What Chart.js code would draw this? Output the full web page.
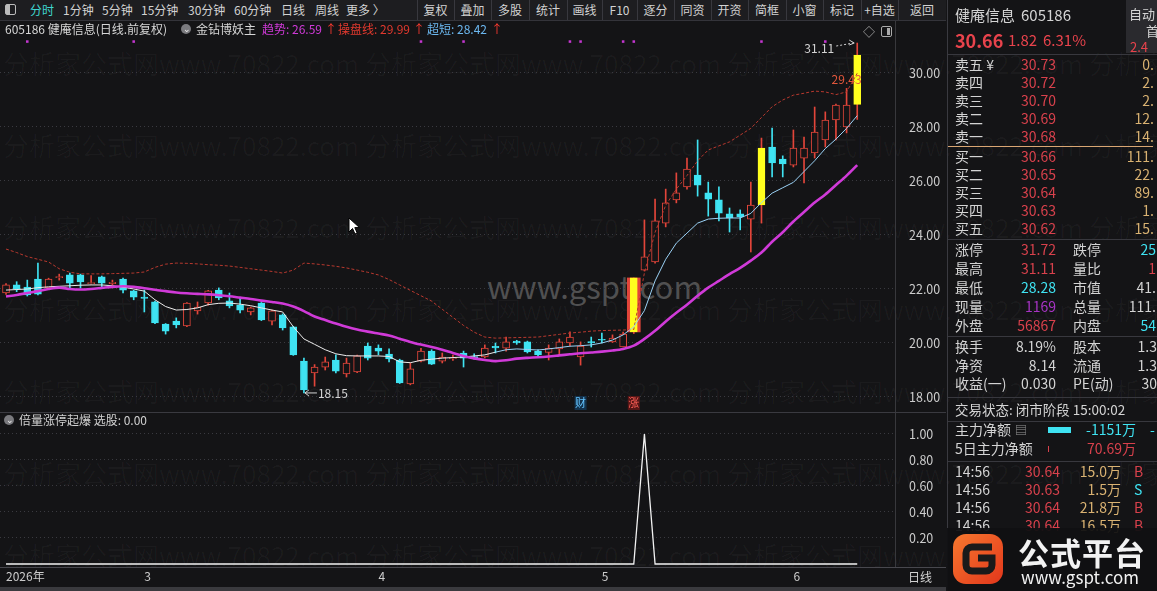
<!DOCTYPE html>
<html lang="zh-CN">
<head>
<meta charset="utf-8">
<title>健庵信息 605186 日线</title>
<script src="https://cdn.jsdelivr.net/npm/chart.js@4.4.1/dist/chart.umd.min.js"></script>
<style>
  html, body { margin: 0; padding: 0; width: 1157px; height: 591px; overflow: hidden; background: #141416;
    font-family: "Noto Sans CJK SC", "Noto Sans", sans-serif; color: #cfcfcf; }
  .t { position: absolute; white-space: nowrap; }
  .box { position: absolute; }
  #wm { position: absolute; left: 0; top: 0; width: 1157px; height: 591px; overflow: hidden; z-index: 0; }
  #priceWrap { position: absolute; left: 0; top: 20px; width: 945px; height: 392px; z-index: 1; }
  #signalWrap { position: absolute; left: 0; top: 413px; width: 945px; height: 175px; z-index: 1; }
  #ui { position: absolute; left: 0; top: 0; width: 1157px; height: 591px; z-index: 2; }
  #panel { position: absolute; left: 947px; top: 0; width: 210px; height: 591px; overflow: hidden; z-index: 2; }
</style>
</head>
<body>
<div id="wm"></div>
<div id="priceWrap"><canvas id="priceChart"></canvas></div>
<div id="signalWrap"><canvas id="signalChart"></canvas></div>
<div id="ui"></div>
<div id="panel"></div>
<script>
// ---- 日K数据 (前复权) ----
const monthStarts = [0, 13, 35, 56, 74];
const monthLabels = ['2026年', '3', '4', '5', '6'];
const priceTicks = [18, 20, 22, 24, 26, 28, 30];
const signalTicks = [0.2, 0.4, 0.6, 0.8, 1.0];

const opens = [
  21.85, 22.15, 22.07, 22.37, 22.04, 22.42, 22.52, 22.52, 22.20, 22.45,
  22.20, 22.37, 21.93, 21.70, 21.52, 20.70, 20.81, 20.63, 21.19, 21.48,
  21.96, 21.56, 21.40, 21.15, 21.48, 20.81, 21.04, 20.60, 19.33, 18.89,
  19.10, 19.37, 18.85, 18.93, 19.89, 19.81, 19.59, 19.37, 18.48, 19.33,
  19.70, 19.33, 19.42, 19.63, 19.50, 19.48, 19.88, 19.81, 20.07, 20.04,
  19.70, 19.65, 19.78, 20.00, 19.48, 20.05, 20.12, 20.04, 19.85, 20.41,
  22.70, 23.00, 24.44, 25.30, 25.78, 26.22, 25.56, 25.30, 24.78, 24.78,
  24.59, 25.11, 27.26, 26.81, 26.59, 26.85, 27.04, 27.52, 28.26, 28.00,
  28.84,
];
const highs = [
  22.20, 22.27, 22.33, 22.96, 22.40, 22.55, 22.59, 22.55, 22.50, 22.48,
  22.33, 22.40, 21.95, 21.96, 21.55, 20.72, 20.93, 21.50, 21.52, 21.95,
  22.04, 21.85, 21.67, 21.33, 21.50, 21.22, 21.08, 20.62, 19.44, 19.20,
  19.48, 19.56, 19.44, 19.55, 20.00, 19.93, 19.78, 19.40, 19.26, 19.80,
  19.75, 19.63, 19.55, 19.70, 19.60, 19.93, 20.00, 20.22, 20.10, 20.07,
  19.75, 19.93, 20.15, 20.41, 20.04, 20.22, 20.37, 20.30, 20.40, 22.41,
  24.56, 25.33, 25.70, 26.30, 26.85, 27.52, 25.96, 25.78, 25.00, 24.93,
  25.96, 27.59, 27.96, 26.93, 27.89, 27.63, 28.74, 28.56, 28.85, 29.43,
  31.11,
];
const lows = [
  21.80, 21.90, 21.74, 21.78, 22.00, 22.33, 22.04, 22.04, 22.18, 22.07,
  22.15, 21.85, 21.60, 21.15, 20.72, 20.33, 20.56, 20.60, 21.07, 21.40,
  21.60, 21.30, 21.11, 21.04, 20.83, 20.67, 20.48, 19.54, 18.15, 18.40,
  19.00, 18.89, 18.74, 18.90, 19.37, 19.56, 19.30, 18.50, 18.45, 19.30,
  19.20, 19.26, 19.35, 19.11, 19.40, 19.45, 19.63, 19.70, 19.95, 19.63,
  19.50, 19.37, 19.56, 19.89, 19.18, 19.85, 20.00, 20.02, 19.85, 20.35,
  22.67, 22.96, 24.30, 25.19, 25.70, 25.44, 24.70, 24.52, 24.11, 24.19,
  23.37, 24.44, 26.15, 26.15, 26.52, 25.93, 26.85, 27.26, 27.52, 27.78,
  28.28,
];
const closes = [
  22.15, 22.00, 21.78, 21.81, 22.37, 22.46, 22.22, 22.26, 22.22, 22.22,
  22.25, 21.96, 21.70, 21.65, 20.74, 20.44, 20.67, 21.48, 21.33, 21.93,
  21.67, 21.37, 21.22, 21.30, 20.85, 21.19, 20.56, 19.56, 18.26, 19.11,
  19.30, 18.96, 19.26, 19.52, 19.44, 19.70, 19.41, 18.52, 19.04, 19.70,
  19.22, 19.48, 19.46, 19.44, 19.45, 19.81, 19.82, 20.04, 20.00, 19.67,
  19.56, 19.80, 20.04, 20.22, 19.89, 20.00, 20.10, 20.18, 20.33, 22.41,
  23.19, 24.52, 25.19, 25.56, 26.44, 25.85, 25.33, 24.81, 24.63, 24.67,
  25.11, 27.22, 26.67, 26.63, 27.22, 27.22, 27.81, 28.26, 28.81, 28.81,
  30.66,
];

// 金钻博妖主: 趋势 / 操盘线 / 超短
const trendLine = [
  21.72, 21.78, 21.85, 21.92, 22.00, 22.05, 22.00, 21.98, 22.00, 22.04,
  22.08, 22.10, 22.08, 22.03, 21.97, 21.92, 21.87, 21.84, 21.82, 21.80,
  21.77, 21.73, 21.68, 21.63, 21.57, 21.52, 21.46, 21.35, 21.18, 20.98,
  20.85, 20.72, 20.60, 20.50, 20.42, 20.35, 20.28, 20.16, 20.04, 19.94,
  19.85, 19.75, 19.63, 19.52, 19.43, 19.37, 19.33, 19.36, 19.42, 19.45,
  19.47, 19.50, 19.54, 19.58, 19.62, 19.65, 19.68, 19.72, 19.78, 19.90,
  20.15, 20.45, 20.80, 21.12, 21.42, 21.75, 22.05, 22.30, 22.55, 22.78,
  23.05, 23.35, 23.75, 24.10, 24.50, 24.85, 25.20, 25.50, 25.85, 26.20,
  26.59,
];
const operateLine = [
  23.48, 23.35, 23.20, 23.10, 23.00, 22.75, 22.62, 22.56, 22.56, 22.56,
  22.57, 22.58, 22.59, 22.63, 22.80, 22.92, 22.96, 22.95, 22.93, 22.90,
  22.88, 22.85, 22.80, 22.75, 22.70, 22.65, 22.59, 22.70, 22.96, 22.93,
  22.89, 22.84, 22.78, 22.70, 22.62, 22.52, 22.35, 22.15, 21.95, 21.75,
  21.55, 21.25, 20.95, 20.65, 20.40, 20.22, 20.18, 20.19, 20.20, 20.21,
  20.22, 20.27, 20.32, 20.37, 20.40, 20.44, 20.46, 20.47, 20.48, 20.50,
  22.60, 24.10, 25.10, 25.70, 26.20, 26.75, 27.15, 27.30, 27.45, 27.70,
  27.95, 28.35, 28.75, 29.00, 29.18, 29.25, 29.33, 29.30, 29.20, 29.30,
  29.99,
];
const shortLine = [
  21.96, 21.98, 22.00, 22.05, 22.08, 22.10, 22.12, 22.14, 22.15, 22.15,
  22.12, 22.07, 22.00, 21.92, 21.60, 21.35, 21.22, 21.24, 21.30, 21.42,
  21.47, 21.48, 21.44, 21.38, 21.30, 21.22, 21.15, 20.60, 20.15, 19.95,
  19.75, 19.60, 19.53, 19.52, 19.52, 19.52, 19.50, 19.30, 19.27, 19.36,
  19.40, 19.44, 19.46, 19.48, 19.52, 19.56, 19.66, 19.75, 19.78, 19.76,
  19.74, 19.78, 19.83, 19.88, 19.90, 19.93, 20.00, 20.11, 20.30, 20.60,
  21.20, 22.30, 23.10, 23.70, 24.07, 24.44, 24.59, 24.62, 24.63, 24.63,
  24.80, 25.20, 25.55, 25.75, 25.95, 26.35, 26.75, 27.20, 27.55, 27.95,
  28.42,
];

// 倍量涨停起爆 选股
const signal = [
  0, 0, 0, 0, 0, 0, 0, 0, 0, 0,
  0, 0, 0, 0, 0, 0, 0, 0, 0, 0,
  0, 0, 0, 0, 0, 0, 0, 0, 0, 0,
  0, 0, 0, 0, 0, 0, 0, 0, 0, 0,
  0, 0, 0, 0, 0, 0, 0, 0, 0, 0,
  0, 0, 0, 0, 0, 0, 0, 0, 0, 0,
  1, 0, 0, 0, 0, 0, 0, 0, 0, 0,
  0, 0, 0, 0, 0, 0, 0, 0, 0, 0,
  0,
];

const dotDays = [2, 12, 39, 43, 53, 54, 58, 59, 71, 77];
const limitUpDays = [59];
const hotDays = [71, 80];
const eventMarks = [
  { day: 54, text: '财', color: '#63c4ff', bg: '#14324c' },
  { day: 59, text: '涨', color: '#ff5f57', bg: '#561616' },
];
const targetMark = { day: 79, value: 29.43 };

// ---- styles ----
const BG = '#141416';
const RED = '#e2453a';
const CYAN = '#3fe3f2';
const YELLOW = '#ffff1e';
const MAGENTA = '#d03ad8';
const LIGHT_BLUE = '#9bd2f6';
const WHITE = '#ececec';
const GRID = '#3a3a40';
const AXIS_TEXT = '#cdcdcd';
const FONT = '"Noto Sans CJK SC", "Noto Sans", sans-serif';
const X_MIN = -0.565;
const X_MAX = 83.55;

Chart.defaults.font.family = FONT;
Chart.defaults.font.size = 12;

const series = (values) => values.map((v, i) => ({ x: i, y: v }));
const isUp = (i) => closes[i] >= opens[i];
const isYellow = (i) => hotDays.includes(i) || limitUpDays.includes(i);
const trendTurn = trendLine.indexOf(Math.min(...trendLine));

const bodies = opens.map((o, i) => ({ x: i, y: [o, closes[i]] }));
const wicks = lows.map((l, i) => ({ x: i, y: [l, highs[i]] }));
const frames = limitUpDays.map(d => ({ x: d, y: [opens[d], closes[d]] }));

const fixWidth = (w) => (scale) => {
  scale.width = w;
  scale.paddingTop = 0;
  scale.paddingBottom = 0;
};

const marksPlugin = {
  id: 'priceMarks',
  afterDatasetsDraw(chart) {
    const { ctx, chartArea } = chart;
    const xs = chart.scales.x;
    const ys = chart.scales.y;
    ctx.save();
    ctx.font = `12px ${FONT}`;
    ctx.textBaseline = 'middle';

    // 最高价
    const hiDay = highs.indexOf(Math.max(...highs));
    const hx = xs.getPixelForValue(hiDay);
    const hy = ys.getPixelForValue(highs[hiDay]);
    ctx.fillStyle = '#d4d4d4';
    ctx.textAlign = 'right';
    ctx.fillText(highs[hiDay].toFixed(2), hx - 23, hy + 5);
    ctx.strokeStyle = '#d4d4d4';
    ctx.lineWidth = 1;
    ctx.setLineDash([2, 2]);
    ctx.beginPath();
    ctx.moveTo(hx - 21, hy + 3);
    ctx.lineTo(hx - 4, hy);
    ctx.stroke();
    ctx.setLineDash([]);
    ctx.beginPath();
    ctx.moveTo(hx - 8, hy - 3);
    ctx.lineTo(hx - 3, hy);
    ctx.lineTo(hx - 8, hy + 2);
    ctx.stroke();

    // 最低价
    const loDay = lows.indexOf(Math.min(...lows));
    const lx = xs.getPixelForValue(loDay);
    const ly = ys.getPixelForValue(lows[loDay]);
    ctx.beginPath();
    ctx.moveTo(lx + 1, ly);
    ctx.lineTo(lx + 13, ly);
    ctx.moveTo(lx + 5, ly - 3);
    ctx.lineTo(lx + 1, ly);
    ctx.lineTo(lx + 5, ly + 3);
    ctx.stroke();
    ctx.textAlign = 'left';
    ctx.fillText(lows[loDay].toFixed(2), lx + 14, ly);

    // 目标价
    ctx.fillStyle = '#e2573c';
    ctx.textAlign = 'center';
    ctx.fillText(targetMark.value.toFixed(2), xs.getPixelForValue(targetMark.day), ys.getPixelForValue(targetMark.value) - 9);

    // 财 / 涨
    ctx.font = `11px ${FONT}`;
    eventMarks.forEach(mark => {
      const mx = xs.getPixelForValue(mark.day);
      const my = chartArea.bottom - 9;
      ctx.fillStyle = mark.bg;
      ctx.fillRect(mx - 6, my - 7, 12, 14);
      ctx.fillStyle = mark.color;
      ctx.fillText(mark.text, mx, my);
    });
    ctx.restore();
  },
};

const buildPriceChart = () => {
  new Chart(document.getElementById('priceChart'), {
    type: 'bar',
    data: {
      datasets: [
        {
          type: 'line',
          label: '趋势',
          data: series(trendLine),
          borderColor: MAGENTA,
          borderWidth: 2.6,
          pointRadius: 0,
          tension: 0.3,
          order: 0,
        },
        {
          type: 'line',
          label: '超短',
          data: series(shortLine),
          borderColor: WHITE,
          borderWidth: 1,
          pointRadius: 0,
          segment: {
            borderColor: (c) => (c.p0DataIndex >= trendTurn ? LIGHT_BLUE : WHITE),
          },
          order: 0,
        },
        {
          type: 'line',
          label: '操盘线',
          data: series(operateLine),
          borderColor: '#b8392f',
          borderWidth: 1,
          borderDash: [3, 2],
          pointRadius: 0,
          order: 0,
        },
        {
          type: 'line',
          label: '信号',
          data: dotDays.map(d => ({ x: d, y: 0.945 })),
          yAxisID: 'dotAxis',
          showLine: false,
          pointStyle: 'rect',
          pointRadius: 1.8,
          pointBorderWidth: 0,
          pointBackgroundColor: '#c436d0',
          order: 0,
        },
        {
          label: 'K线实体',
          data: bodies,
          grouped: false,
          barThickness: 7,
          minBarLength: 1,
          borderSkipped: false,
          borderWidth: 1,
          backgroundColor: (c) => (isYellow(c.dataIndex) ? YELLOW : isUp(c.dataIndex) ? BG : CYAN),
          borderColor: (c) => (isYellow(c.dataIndex) ? YELLOW : isUp(c.dataIndex) ? RED : CYAN),
          order: 1,
        },
        {
          label: '涨停',
          data: frames,
          grouped: false,
          barThickness: 13,
          borderWidth: 0,
          backgroundColor: RED,
          order: 2,
        },
        {
          label: '影线',
          data: wicks,
          grouped: false,
          barThickness: 1,
          borderWidth: 0,
          backgroundColor: (c) => (isUp(c.dataIndex) ? RED : CYAN),
          order: 3,
        },
      ],
    },
    options: {
      responsive: true,
      maintainAspectRatio: false,
      animation: false,
      events: [],
      layout: { padding: 0, autoPadding: false },
      plugins: { legend: { display: false }, tooltip: { enabled: false } },
      scales: {
        x: { type: 'linear', min: X_MIN, max: X_MAX, offset: false, display: false },
        y: {
          position: 'right',
          min: 17.444,
          max: 31.963,
          afterBuildTicks: (scale) => { scale.ticks = priceTicks.map(v => ({ value: v })); },
          afterFit: fixWidth(50),
          grid: { color: GRID, drawTicks: false },
          border: { display: true, color: '#38383c', dash: [1, 3] },
          ticks: { padding: 14, color: AXIS_TEXT, font: { size: 12.5 }, callback: (v) => Number(v).toFixed(2) },
        },
        dotAxis: { display: false, min: 0, max: 1 },
      },
    },
    plugins: [marksPlugin],
  });
};

const buildSignalChart = () => {
  new Chart(document.getElementById('signalChart'), {
    type: 'line',
    data: {
      datasets: [
        {
          label: '选股',
          data: series(signal),
          borderColor: '#f2f2f2',
          borderWidth: 1.3,
          pointRadius: 0,
        },
      ],
    },
    options: {
      responsive: true,
      maintainAspectRatio: false,
      animation: false,
      events: [],
      layout: { padding: 0, autoPadding: false },
      plugins: { legend: { display: false }, tooltip: { enabled: false } },
      scales: {
        x: {
          type: 'linear',
          min: X_MIN,
          max: X_MAX,
          grid: { display: false, drawTicks: false },
          border: { display: false },
          afterBuildTicks: (scale) => { scale.ticks = monthStarts.map(v => ({ value: v })); },
          afterFit: (scale) => { scale.height = 22; scale.paddingLeft = 0; scale.paddingRight = 0; },
          ticks: {
            align: 'start',
            autoSkip: false,
            maxRotation: 0,
            padding: 3,
            color: AXIS_TEXT,
            callback: (v, i) => monthLabels[i],
          },
        },
        y: {
          position: 'right',
          min: -0.0154,
          max: 1.1615,
          afterBuildTicks: (scale) => { scale.ticks = signalTicks.map(v => ({ value: v })); },
          afterFit: fixWidth(50),
          grid: { color: GRID, drawTicks: false },
          border: { display: true, color: '#38383c', dash: [1, 3] },
          ticks: { padding: 14, color: AXIS_TEXT, font: { size: 12.5 }, callback: (v) => Number(v).toFixed(2) },
        },
      },
    },
  });
};

// ---- 页面文字 ----
const put = (parent, x, y, text, color, size, align = 'left', extra = '') => {
  const el = document.createElement('span');
  el.className = 't';
  el.textContent = text;
  el.style.cssText = `left:${x}px;top:${y - size * 0.62}px;font-size:${size}px;line-height:${size * 1.24}px;color:${color};${extra}`;
  if (align === 'right') el.style.transform = 'translateX(-100%)';
  if (align === 'center') el.style.transform = 'translateX(-50%)';
  parent.appendChild(el);
  return el;
};
const rect = (parent, x, y, w, h, css) => {
  const el = document.createElement('div');
  el.className = 'box';
  el.style.cssText = `left:${x}px;top:${y}px;width:${w}px;height:${h}px;${css}`;
  parent.appendChild(el);
  return el;
};

const buildWatermarks = () => {
  const wm = document.getElementById('wm');
  [63, 145, 227, 309, 391, 473, 555].forEach(y => {
    [3, 365, 727, 1089].forEach(x => put(wm, x, y, '分析家公式网www.70822.com', 'rgba(255,255,255,0.032)', 26));
  });
  put(wm, 487, 286, 'www.gspt.com', 'rgba(140,140,140,0.5)', 31);
};

const buildFrame = () => {
  const ui = document.getElementById('ui');
  // 工具栏
  rect(ui, 0, 0, 946, 20, 'background:#1d1d20;border-bottom:1px solid #34343a;');
  rect(ui, 5, 4, 11, 11, 'border:1px solid #bbb;border-radius:2px;box-sizing:border-box;');
  rect(ui, 6, 5, 4, 9, 'background:#bbb;');
  const leftTabs = [['分时', 30, '#3fd6d0'], ['1分钟', 63], ['5分钟', 102], ['15分钟', 141], ['30分钟', 188],
    ['60分钟', 234], ['日线', 281], ['周线', 315], ['更多 〉', 346]];
  leftTabs.forEach(([s, x, c]) => put(ui, x, 10, s, c || '#d2d2d2', 12));
  const seps = [417, 454, 491, 529, 567, 602, 637, 674, 711, 748, 786, 823, 861, 898];
  const rightTabs = ['复权', '叠加', '多股', '统计', '画线', 'F10', '逐分', '同资', '开资', '简框', '小窗', '标记', '+自选', '返回'];
  seps.forEach(x => rect(ui, x, 0, 1, 20, 'background:#38383e;'));
  rightTabs.forEach((s, i) => {
    const a = seps[i];
    const b = i + 1 < seps.length ? seps[i + 1] : 946;
    put(ui, (a + b) / 2, 10, s, '#d2d2d2', 12, 'center');
  });

  // 主图标题
  put(ui, 5, 29, '605186 健庵信息(日线.前复权)', '#d6d6d6', 12);
  rect(ui, 181, 24, 10, 10, 'background:#7a7a7e;border-radius:50%;');
  put(ui, 183, 29, '⌄', '#eee', 9);
  put(ui, 196, 29, '金钻博妖主', '#d6d6d6', 12);
  put(ui, 262, 29, '趋势: 26.59', MAGENTA, 12);
  put(ui, 325, 29, '↑', '#ff3b30', 12);
  put(ui, 338, 29, '操盘线: 29.99', '#e2392e', 12);
  put(ui, 413, 29, '↑', '#ff3b30', 12);
  put(ui, 427, 29, '超短: 28.42', '#6cb8f0', 12);
  put(ui, 491, 29, '↑', '#ff3b30', 12);
  put(ui, 863, 32, '◇', '#aaa', 12);
  rect(ui, 881, 26, 11, 11, 'border:1px solid #aaa;border-radius:2px;box-sizing:border-box;');
  rect(ui, 887, 28, 3, 7, 'background:#aaa;');

  // 副图
  rect(ui, 0, 412, 946, 1, 'background:#3a3a40;');
  rect(ui, 4, 415, 10, 10, 'background:#7a7a7e;border-radius:50%;');
  put(ui, 6, 420, '⌄', '#eee', 9);
  put(ui, 19, 420, '倍量涨停起爆  选股: 0.00', '#d2d2d2', 12);
  rect(ui, 0, 567, 946, 1, 'background:#48484e;');
  rect(ui, 0, 587, 946, 4, 'background:#3a3a3e;');
  put(ui, 908, 577, '日线', '#d2d2d2', 12);

  // 鼠标
  ui.insertAdjacentHTML('beforeend', '<svg class="box" style="left:348px;top:217px" width="13" height="19"><path d="M1 1 L1 15 L4.5 11.5 L7 17 L9.2 16 L6.8 10.6 L11.5 10.6 Z" fill="#fff" stroke="#000" stroke-width="1"/></svg>');
};

const buildPanel = () => {
  const p = document.getElementById('panel');
  const ox = 947;
  const at = (x) => x - ox;
  const W = '#d4d4d4';
  const PR = '#d8414c';
  const GOLD = '#d9b272';
  rect(p, 0, 0, 1, 591, 'background:#3a3a40;');

  put(p, at(955), 15, '健庵信息', W, 15);
  put(p, at(1021), 15, '605186', W, 15);
  put(p, at(955), 40, '30.66', '#e8434c', 18, 'left', 'font-weight:bold;');
  put(p, at(1008), 40, '1.82', '#e8434c', 15);
  put(p, at(1043), 40, '6.31%', '#e8434c', 15);
  rect(p, at(1126), 0, 40, 53, 'background:#2a2a2e;');
  put(p, at(1129), 14, '自动', W, 13);
  put(p, at(1146), 31, '首', W, 13);
  put(p, at(1130), 47, '2.4', '#e8434c', 13);
  rect(p, 1, 54, 210, 1, 'background:#38383e;');

  const askRows = [['卖五 ¥', '30.73', '0.'], ['卖四', '30.72', '2.'], ['卖三', '30.70', '2.'], ['卖二', '30.69', '12.'], ['卖一', '30.68', '14.']];
  const bidRows = [['买一', '30.66', '111.'], ['买二', '30.65', '22.'], ['买三', '30.64', '89.'], ['买四', '30.63', '1.'], ['买五', '30.62', '15.']];
  askRows.forEach(([name, price, vol], i) => {
    const y = 65 + i * 17.8;
    put(p, at(955), y, name, W, 14);
    put(p, at(1056), y, price, PR, 14, 'right');
    put(p, at(1154), y, vol, GOLD, 14, 'right');
  });
  rect(p, 1, 146, 205, 1, 'background:#d9a673;');
  bidRows.forEach(([name, price, vol], i) => {
    const y = 157 + i * 18;
    put(p, at(955), y, name, W, 14);
    put(p, at(1056), y, price, PR, 14, 'right');
    put(p, at(1154), y, vol, GOLD, 14, 'right');
  });
  rect(p, 1, 239, 210, 1, 'background:#38383e;');

  const quoteRows = [
    ['涨停', '31.72', PR, '跌停', '25', CYAN],
    ['最高', '31.11', PR, '量比', '1', PR],
    ['最低', '28.28', CYAN, '市值', '41.', W],
    ['现量', '1169', '#a733c4', '总量', '111.', W],
    ['外盘', '56867', PR, '内盘', '54', CYAN],
  ];
  quoteRows.forEach(([n1, v1, c1, n2, v2, c2], i) => {
    const y = 250 + i * 19;
    put(p, at(955), y, n1, W, 14);
    put(p, at(1056), y, v1, c1, 14, 'right');
    put(p, at(1073), y, n2, W, 14);
    put(p, at(1156), y, v2, c2, 14, 'right');
  });
  rect(p, 1, 336, 210, 1, 'background:#38383e;');
  const infoRows = [
    ['换手', '8.19%', '股本', '1.3'],
    ['净资', '8.14', '流通', '1.3'],
    ['收益(一)', '0.030', 'PE(动)', '30'],
  ];
  infoRows.forEach(([n1, v1, n2, v2], i) => {
    const y = 347 + i * 18.5;
    put(p, at(955), y, n1, W, 14);
    put(p, at(1056), y, v1, W, 14, 'right');
    put(p, at(1073), y, n2, W, 14);
    put(p, at(1157), y, v2, W, 14, 'right');
  });
  rect(p, 1, 397, 210, 1, 'background:#38383e;');

  put(p, at(955), 409, '交易状态: 闭市阶段 15:00:02', W, 13.5);
  rect(p, 1, 421, 210, 1, 'background:#38383e;');
  put(p, at(955), 430, '主力净额', W, 14);
  put(p, at(1015), 430, '▤', '#9a9a9a', 12);
  rect(p, at(1048), 427, 23, 6, `background:${CYAN};`);
  put(p, at(1136), 430, '-1151万', CYAN, 14, 'right');
  put(p, at(1150), 430, '-', CYAN, 14);
  put(p, at(955), 449, '5日主力净额', W, 14);
  rect(p, at(1048), 446, 1, 6, `background:${PR};`);
  put(p, at(1136), 449, '70.69万', PR, 14, 'right');
  rect(p, 1, 461, 210, 1, 'background:#38383e;');

  const trades = [['14:56', '30.64', '15.0万', 'B'], ['14:56', '30.63', '1.5万', 'S'], ['14:56', '30.64', '21.8万', 'B'], ['14:56', '30.64', '16.5万', 'B']];
  trades.forEach(([t, price, amt, side], i) => {
    const y = 472 + i * 17.8;
    put(p, at(955), y, t, W, 14);
    put(p, at(1060), y, price, PR, 14, 'right');
    put(p, at(1121), y, amt, GOLD, 14, 'right');
    put(p, at(1134), y, side, side === 'B' ? PR : CYAN, 14);
  });

  // 角标
  rect(p, 0, 528, 210, 63, 'background:rgba(16,16,18,0.94);');
  p.insertAdjacentHTML('beforeend',
    `<svg class="box" style="left:${at(952)}px;top:533px" width="52" height="52" viewBox="0 0 52 52">
      <defs><linearGradient id="g" x1="0" y1="0" x2="1" y2="1"><stop offset="0" stop-color="#f7792f"/><stop offset="1" stop-color="#e2361b"/></linearGradient></defs>
      <rect x="1" y="1" width="50" height="50" rx="13" fill="url(#g)"/>
      <path d="M40 14 H20 a6 6 0 0 0 -6 6 V32 a6 6 0 0 0 6 6 H34 a6 6 0 0 0 6 -6 V25 H26" fill="none" stroke="#1a1a1a" stroke-width="7"/>
    </svg>`);
  put(p, at(1018), 552, '公式平台', '#f2f2f2', 31, 'left', 'font-weight:bold;letter-spacing:1px;');
  put(p, at(1021), 577, 'www.gspt.com', '#f2f2f2', 17);
};

buildWatermarks();
buildFrame();
buildPanel();
buildPriceChart();
buildSignalChart();
</script>
</body>
</html>
